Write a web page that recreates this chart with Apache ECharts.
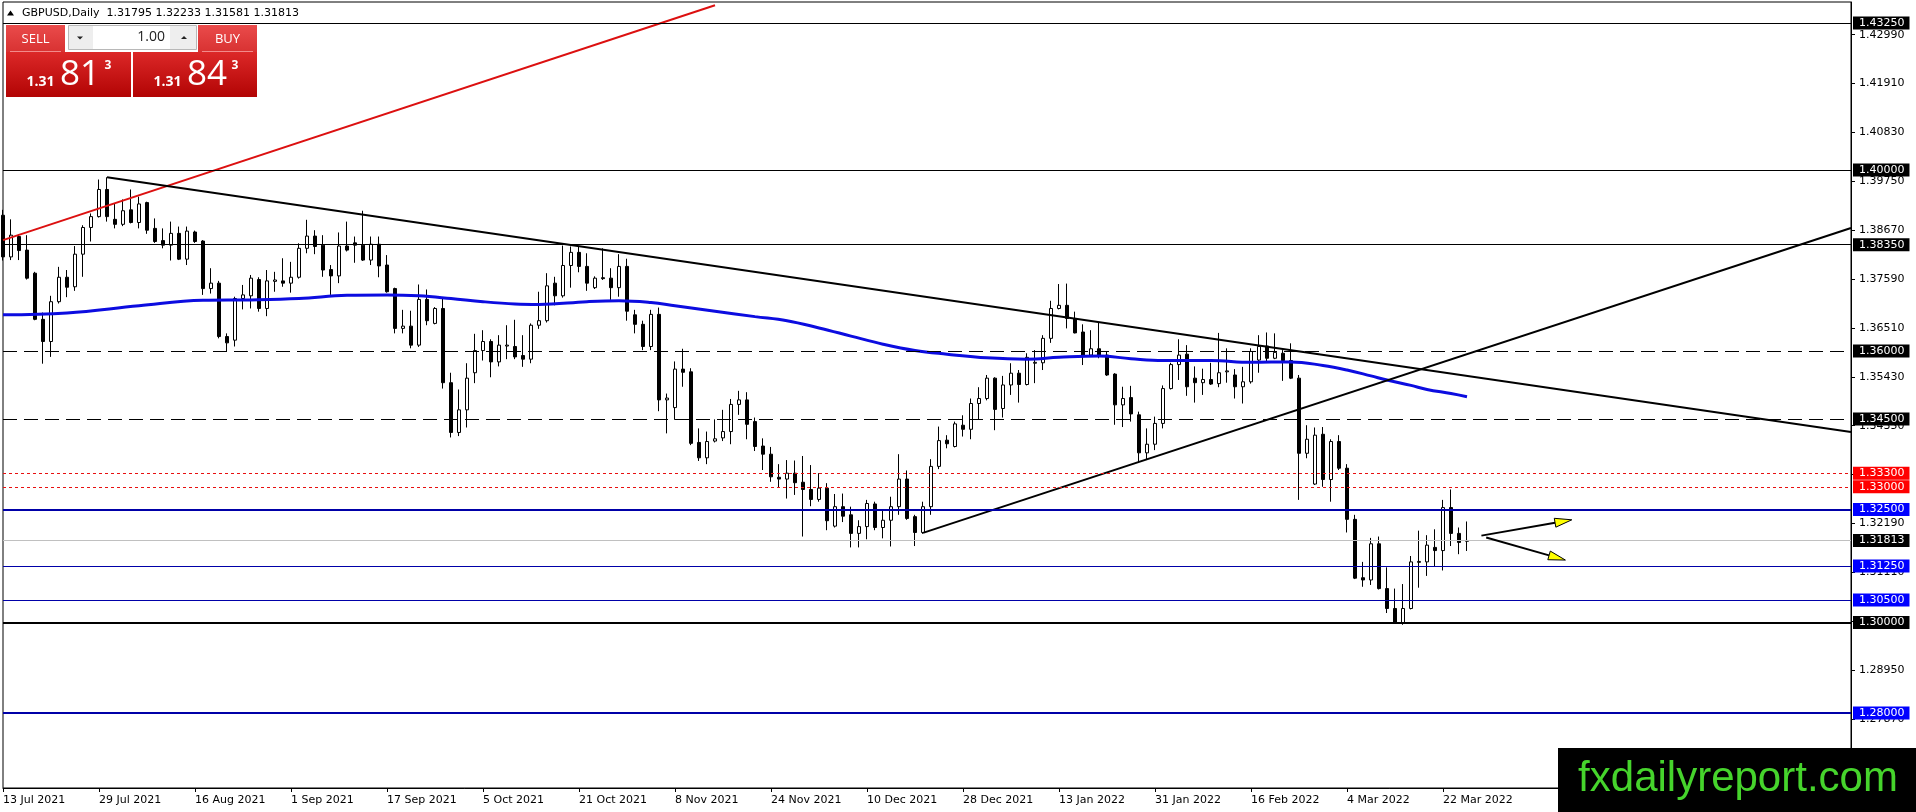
<!DOCTYPE html>
<html>
<head>
<meta charset="utf-8">
<title>GBPUSD, Daily</title>
<script src="https://cdn.jsdelivr.net/npm/echarts@6/dist/echarts.min.js"></script>
<style>
  html, body { margin: 0; padding: 0; background: #fff; }
  #chart { width: 1916px; height: 812px; }
</style>
</head>
<body>
<div id="chart"></div>
<script>
// daily bars, first one is 13 Jul 2021 (weekdays only)
var firstDay = [2021, 6, 13];
var slotCount = 232;          // bars + empty chart shift on the right
var labelEvery = 12;

var openP = [
  1.3900,1.3808,1.3853,1.3823,1.3772,1.3670,1.3621,1.3709,1.3763,1.3742,
  1.3814,1.3873,1.3897,1.3957,1.3891,1.3880,1.3912,1.3884,1.3928,1.3871,
  1.3844,1.3834,1.3860,1.3803,1.3863,1.3843,1.3738,1.3750,1.3632,1.3624,
  1.3716,1.3722,1.3758,1.3694,1.3754,1.3755,1.3750,1.3763,1.3827,1.3854,
  1.3834,1.3780,1.3766,1.3832,1.3839,1.3834,1.3801,1.3836,1.3790,1.3738,
  1.3650,1.3655,1.3613,1.3714,1.3661,1.3694,1.3530,1.3420,1.3470,1.3552,
  1.3601,1.3621,1.3576,1.3611,1.3610,1.3590,1.3582,1.3657,1.3667,1.3750,
  1.3722,1.3789,1.3818,1.3787,1.3740,1.3762,1.3761,1.3740,1.3787,1.3680,
  1.3659,1.3610,1.3681,1.3492,1.3475,1.3560,1.3554,1.3398,1.3364,1.3401,
  1.3408,1.3422,1.3482,1.3492,1.3444,1.3390,1.3372,1.3321,1.3317,1.3330,
  1.3310,1.3294,1.3272,1.3297,1.3213,1.3256,1.3238,1.3197,1.3212,1.3262,
  1.3210,1.3226,1.3256,1.3317,1.3234,1.3199,1.3256,1.3345,1.3403,1.3389,
  1.3436,1.3427,1.3484,1.3495,1.3540,1.3473,1.3525,1.3551,1.3526,1.3573,
  1.3574,1.3628,1.3694,1.3701,1.3672,1.3642,1.3591,1.3605,1.3591,1.3549,
  1.3481,1.3497,1.3459,1.3375,1.3394,1.3440,1.3517,1.3570,1.3593,1.3540,
  1.3530,1.3537,1.3528,1.3554,1.3547,1.3521,1.3532,1.3580,1.3611,1.3584,
  1.3595,1.3579,1.3540,1.3374,1.3306,1.3416,1.3316,1.3400,1.3341,1.3228,
  1.3099,1.3094,1.3174,1.3075,1.3031,1.3000,1.3031,1.3133,1.3134,1.3166,
  1.3159,1.3254,1.3197,1.31795
];
var highP = [
  1.3912,1.3891,1.3858,1.3856,1.3775,1.3685,1.3722,1.3786,1.3779,1.3832,
  1.3878,1.3904,1.3979,1.3984,1.3926,1.3935,1.3957,1.3941,1.3930,1.3893,
  1.3871,1.3886,1.3875,1.3875,1.3866,1.3845,1.3783,1.3755,1.3639,1.3720,
  1.3746,1.3768,1.3763,1.3779,1.3775,1.3805,1.3797,1.3838,1.3890,1.3867,
  1.3856,1.3790,1.3862,1.3886,1.3853,1.3910,1.3853,1.3853,1.3812,1.3740,
  1.3691,1.3689,1.3747,1.3736,1.3697,1.3716,1.3552,1.3515,1.3573,1.3638,
  1.3646,1.3626,1.3635,1.3657,1.3669,1.3635,1.3661,1.3731,1.3772,1.3764,
  1.3833,1.3831,1.3831,1.3816,1.3765,1.3827,1.3783,1.3814,1.3804,1.3691,
  1.3667,1.3691,1.3696,1.3506,1.3577,1.3605,1.3562,1.3429,1.3422,1.3449,
  1.3470,1.3494,1.3512,1.3509,1.3453,1.3407,1.3388,1.3350,1.3359,1.3358,
  1.3368,1.3348,1.3330,1.3308,1.3284,1.3285,1.3256,1.3226,1.3271,1.3267,
  1.3249,1.3278,1.3372,1.3336,1.3238,1.3267,1.3361,1.3433,1.3414,1.3444,
  1.3458,1.3495,1.3520,1.3547,1.3542,1.3545,1.3573,1.3558,1.3595,1.3602,
  1.3635,1.3711,1.3748,1.3749,1.3687,1.3659,1.3646,1.3662,1.3598,1.3551,
  1.3521,1.3523,1.3466,1.3429,1.3455,1.3524,1.3574,1.3626,1.3613,1.3566,
  1.3561,1.3574,1.3640,1.3606,1.3560,1.3565,1.3606,1.3635,1.3641,1.3639,
  1.3602,1.3617,1.3547,1.3436,1.3431,1.3432,1.3405,1.3414,1.3350,1.3238,
  1.3134,1.3187,1.3190,1.3122,1.3075,1.3085,1.3147,1.3203,1.3193,1.3206,
  1.3271,1.3294,1.3210,1.32233
];
var lowP = [
  1.3800,1.3801,1.3801,1.3758,1.3668,1.3572,1.3587,1.3705,1.3719,1.3733,
  1.3764,1.3842,1.3895,1.3886,1.3871,1.3876,1.3882,1.3871,1.3859,1.3839,
  1.3827,1.3800,1.3801,1.3790,1.3839,1.3724,1.3727,1.3628,1.3599,1.3610,
  1.3692,1.3694,1.3687,1.3677,1.3731,1.3742,1.3729,1.3760,1.3816,1.3814,
  1.3764,1.3724,1.3750,1.3820,1.3795,1.3799,1.3790,1.3763,1.3729,1.3639,
  1.3639,1.3606,1.3609,1.3657,1.3659,1.3517,1.3409,1.3412,1.3431,1.3529,
  1.3579,1.3542,1.3566,1.3582,1.3582,1.3565,1.3573,1.3649,1.3663,1.3701,
  1.3718,1.3740,1.3774,1.3733,1.3737,1.3757,1.3713,1.3720,1.3667,1.3639,
  1.3602,1.3602,1.3467,1.3418,1.3448,1.3521,1.3392,1.3357,1.3350,1.3398,
  1.3401,1.3394,1.3459,1.3405,1.3379,1.3337,1.3311,1.3299,1.3274,1.3282,
  1.3190,1.3257,1.3267,1.3204,1.3210,1.3222,1.3166,1.3166,1.3184,1.3204,
  1.3186,1.3168,1.3238,1.3227,1.3169,1.3196,1.3238,1.3339,1.3385,1.3387,
  1.3411,1.3405,1.3449,1.3491,1.3425,1.3453,1.3503,1.3486,1.3524,1.3529,
  1.3558,1.3618,1.3692,1.3650,1.3639,1.3569,1.3588,1.3584,1.3545,1.3437,
  1.3432,1.3444,1.3355,1.3360,1.3381,1.3429,1.3515,1.3536,1.3501,1.3486,
  1.3503,1.3525,1.3520,1.3530,1.3495,1.3484,1.3528,1.3552,1.3574,1.3582,
  1.3534,1.3538,1.3271,1.3363,1.3304,1.3300,1.3267,1.3337,1.3199,1.3096,
  1.3079,1.3083,1.3073,1.3021,1.2998,1.2995,1.3029,1.3077,1.3103,1.3124,
  1.3115,1.3169,1.3151,1.31581
];
var closeP = [
  1.3808,1.3856,1.3822,1.3761,1.3670,1.3621,1.3709,1.3763,1.3741,1.3814,
  1.3873,1.3897,1.3957,1.3897,1.3880,1.3910,1.3884,1.3925,1.3867,1.3842,
  1.3834,1.3860,1.3803,1.3865,1.3842,1.3738,1.3750,1.3632,1.3618,1.3716,
  1.3724,1.3761,1.3694,1.3755,1.3757,1.3750,1.3763,1.3827,1.3854,1.3831,
  1.3779,1.3766,1.3832,1.3823,1.3834,1.3801,1.3836,1.3788,1.3731,1.3650,
  1.3655,1.3613,1.3714,1.3667,1.3694,1.3530,1.3420,1.3470,1.3540,1.3601,
  1.3621,1.3576,1.3613,1.3613,1.3587,1.3582,1.3657,1.3667,1.3744,1.3722,
  1.3789,1.3818,1.3787,1.3750,1.3761,1.3760,1.3740,1.3787,1.3688,1.3659,
  1.3610,1.3681,1.3492,1.3496,1.3560,1.3553,1.3396,1.3364,1.3400,1.3406,
  1.3422,1.3482,1.3492,1.3438,1.3389,1.3372,1.3322,1.3317,1.3330,1.3309,
  1.3294,1.3272,1.3297,1.3225,1.3256,1.3235,1.3197,1.3212,1.3263,1.3210,
  1.3226,1.3256,1.3317,1.3230,1.3199,1.3256,1.3345,1.3402,1.3395,1.3439,
  1.3427,1.3484,1.3495,1.3540,1.3471,1.3525,1.3551,1.3526,1.3586,1.3575,
  1.3628,1.3694,1.3701,1.3672,1.3640,1.3588,1.3605,1.3591,1.3547,1.3481,
  1.3495,1.3461,1.3375,1.3394,1.3440,1.3517,1.3570,1.3591,1.3521,1.3530,
  1.3537,1.3527,1.3552,1.3556,1.3521,1.3532,1.3599,1.3610,1.3584,1.3597,
  1.3579,1.3540,1.3374,1.3405,1.3414,1.3316,1.3400,1.3341,1.3228,1.3098,
  1.3094,1.3174,1.3075,1.3031,1.3001,1.3031,1.3134,1.3135,1.3171,1.3159,
  1.3254,1.3197,1.3177,1.31813
];

// moving average as [bar, price]
var maPoints = [
  [0,1.3680],[8,1.3684],[17,1.3700],[25,1.3712],[31,1.3713],[37,1.3716],[43,1.3723],
  [48,1.3724],[52,1.3722],[56,1.3716],[60,1.3709],[64,1.3704],[67,1.3703],[73,1.3709],
  [77,1.3711],[81,1.3707],[84,1.3700],[89,1.3688],[94,1.3676],[98,1.3667],[102,1.3651],
  [106,1.3633],[110,1.3615],[114,1.3601],[118,1.3593],[123,1.3585],[128,1.3582],[132,1.3586],
  [137,1.3589],[141,1.3583],[145,1.3579],[151,1.3579],[156,1.3575],[161,1.3576],[165,1.3568],
  [168,1.3558],[171,1.3545],[173,1.3536],[176,1.3524],[178,1.3515],[181,1.3506],[183,1.3499]
];

// drawn objects: trend lines [bar, price] and the two arrows [x1, y1, x2, y2]
var redTrend = [[0, 1.3845], [89, 1.4364]];
var downTrend = [[13, 1.3984], [231, 1.3421]];
var upTrend = [[115, 1.3198], [231, 1.3872]];
var arrowUp = [184.8, 1.3192, 196.1, 1.3227];
var arrowDown = [185.4, 1.3188, 195.3, 1.3138];

// horizontal levels
var levelPrices = [1.43250, 1.40000, 1.38350, 1.36000, 1.34500, 1.33300, 1.33000,
                   1.32500, 1.31250, 1.30500, 1.30000, 1.28000];
var levelKind = ['thin', 'thin', 'thin', 'dash', 'dash', 'dot', 'dot',
                 'blueBold', 'blue', 'blue', 'blackBold', 'blueBold'];

var priceTicks = [1.27870, 1.28950, 1.30030, 1.31110, 1.32190, 1.33270, 1.34350, 1.35430,
                  1.36510, 1.37590, 1.38670, 1.39750, 1.40830, 1.41910, 1.42990];
var priceMin = 1.26343, priceMax = 1.43713;
var spread = 0.00030, lotSize = '1.00';

var months = ['Jan','Feb','Mar','Apr','May','Jun','Jul','Aug','Sep','Oct','Nov','Dec'];
var dates = [];
var d = new Date(Date.UTC(firstDay[0], firstDay[1], firstDay[2]));
while (dates.length < slotCount) {
  var wd = d.getUTCDay();
  if (wd !== 0 && wd !== 6) {
    dates.push(d.getUTCDate() + ' ' + months[d.getUTCMonth()] + ' ' + d.getUTCFullYear());
  }
  d.setUTCDate(d.getUTCDate() + 1);
}

var lastBar = closeP.length - 1;
var candles = [];
for (var i = 0; i < closeP.length; i++) {
  candles.push([openP[i], closeP[i], lowP[i], highP[i]]);
}

var FONT = 'DejaVu Sans';
var kindStyle = {
  thin:      { line: { color: '#000', width: 1, type: 'solid' }, box: '#000' },
  dash:      { line: { color: '#000', width: 1, type: [14, 7] }, box: '#000' },
  dot:       { line: { color: '#e81010', width: 1, type: [3, 3] }, box: '#ff0000' },
  blueBold:  { line: { color: '#0000a8', width: 2, type: 'solid' }, box: '#0000ff' },
  blue:      { line: { color: '#0000a8', width: 1, type: 'solid' }, box: '#0000ff' },
  blackBold: { line: { color: '#000', width: 2, type: 'solid' }, box: '#000' },
  bid:       { line: { color: '#c0c0c0', width: 1, type: 'solid' }, box: '#000' }
};

function levelItem(value, kind) {
  var st = kindStyle[kind];
  return {
    yAxis: value,
    lineStyle: st.line,
    label: {
      show: true, position: 'end', distance: 2,
      formatter: value.toFixed(5),
      color: '#fff', backgroundColor: st.box,
      padding: [1, 5, 0, 6], fontFamily: FONT, fontSize: 11, lineHeight: 12
    }
  };
}
var levelData = [];
for (var k = 0; k < levelPrices.length; k++) levelData.push(levelItem(levelPrices[k], levelKind[k]));
levelData.push(levelItem(closeP[lastBar], 'bid'));

function showLabel(index) { return index % labelEvery === 0 && index <= lastBar; }

// trade panel strings
var bidStr = closeP[lastBar].toFixed(5);
var askStr = (closeP[lastBar] + spread).toFixed(5);
var titleStr = 'GBPUSD,Daily  ' + openP[lastBar].toFixed(5) + ' ' + highP[lastBar].toFixed(5) + ' ' +
               lowP[lastBar].toFixed(5) + ' ' + closeP[lastBar].toFixed(5);

function grad(top, bottom) {
  return new echarts.graphic.LinearGradient(0, 0, 0, 1, [
    { offset: 0, color: top }, { offset: 1, color: bottom }
  ]);
}
function txt(text, x, y, font, fill, align) {
  return { type: 'text', silent: true, z: 50,
    style: { text: text, x: x, y: y, font: font, fill: fill,
             align: align || 'left', textAlign: align || 'left',
             verticalAlign: 'middle', textVerticalAlign: 'middle' } };
}
function priceBox(x, w, s) {
  return [
    { type: 'rect', z: 49, shape: { x: x, y: 52, width: w, height: 45 }, style: { fill: grad('#dc2828', '#b20404') } },
    txt(s.slice(0, 4), x + 20.5, 82.5, 'bold 14px "Open Sans"', '#fff'),
    txt(s.slice(4, 6), x + 54, 75.5, '35px "Open Sans"', '#fff'),
    txt(s.slice(6), x + 98.5, 66, 'bold 12px "Open Sans"', '#fff')
  ];
}

var graphics = [
  { type: 'polygon', z: 50, shape: { points: [[7, 15.5], [10.5, 10.5], [14, 15.5]] }, style: { fill: '#000' } },
  txt(titleStr, 22, 13, '11px "' + FONT + '"', '#000'),

  { type: 'rect', z: 49, shape: { x: 6, y: 25, width: 59, height: 27 }, style: { fill: grad('#ea4b4b', '#d83232') } },
  { type: 'line', z: 50, shape: { x1: 10, y1: 51.5, x2: 61, y2: 51.5 }, style: { stroke: '#f28a8a', lineWidth: 1 } },
  txt('SELL', 35.5, 39, '13px "Open Sans"', '#fff', 'center'),
  { type: 'rect', z: 49, shape: { x: 68.5, y: 25.5, width: 128, height: 24 }, style: { fill: '#eeeeee', stroke: '#b8b8b8', lineWidth: 1 } },
  { type: 'rect', z: 50, shape: { x: 93, y: 26, width: 77, height: 23 }, style: { fill: '#ffffff' } },
  { type: 'polygon', z: 50, shape: { points: [[77, 36.5], [83, 36.5], [80, 39.5]] }, style: { fill: '#222' } },
  { type: 'polygon', z: 50, shape: { points: [[181, 39], [187, 39], [184, 36]] }, style: { fill: '#222' } },
  txt(lotSize, 165, 37.5, '14px "Open Sans"', '#222', 'right'),
  { type: 'rect', z: 49, shape: { x: 198, y: 25, width: 59, height: 27 }, style: { fill: grad('#ea4b4b', '#d83232') } },
  { type: 'line', z: 50, shape: { x1: 202, y1: 51.5, x2: 253, y2: 51.5 }, style: { stroke: '#f28a8a', lineWidth: 1 } },
  txt('BUY', 227.5, 39, '13px "Open Sans"', '#fff', 'center')
].concat(priceBox(6, 125, bidStr)).concat(priceBox(133, 124, askStr)).concat([
  { type: 'rect', z: 100, shape: { x: 1558, y: 748, width: 358, height: 64 }, style: { fill: '#000' } },
  txt('fxdailyreport.com', 1738, 779, '42px "Liberation Sans"', '#46d42c', 'center')
]);
graphics[graphics.length - 1].z = 101;

function trendSeries(points, color, width) {
  return {
    type: 'line', xAxisIndex: 1, data: points, symbol: 'none', silent: true,
    lineStyle: { color: color, width: width }, z: 4
  };
}

var chart = echarts.init(document.getElementById('chart'));
var option = {
  animation: false,
  backgroundColor: '#fff',
  grid: {
    left: 3, right: 65, top: 2, bottom: 24,
    show: true, borderColor: '#000', borderWidth: 1,
    containLabel: false, outerBoundsMode: 'none'
  },
  xAxis: [{
    type: 'category', data: dates, boundaryGap: false,
    axisLine: { show: true, onZero: false, lineStyle: { color: '#000', width: 1 } },
    axisTick: { show: true, interval: showLabel, length: 4, lineStyle: { color: '#000' } },
    axisLabel: { interval: showLabel, align: 'left', margin: 7, color: '#000',
                 fontFamily: FONT, fontSize: 11 },
    splitLine: { show: false }
  }, {
    type: 'value', min: 0, max: slotCount - 1, show: false,
    axisLine: { onZero: false }
  }],
  yAxis: {
    type: 'value', position: 'right', min: priceMin, max: priceMax, scale: true,
    axisLine: { show: true, onZero: false, lineStyle: { color: '#000', width: 1 } },
    axisTick: { show: true, customValues: priceTicks, length: 4, lineStyle: { color: '#000' } },
    axisLabel: { customValues: priceTicks, margin: 8, color: '#000', fontFamily: FONT, fontSize: 11,
                 formatter: function (v) { return v.toFixed(5); } },
    splitLine: { show: false }
  },
  graphic: graphics,
  series: [{
    type: 'candlestick', data: candles, barWidth: 4,
    itemStyle: { color: '#ffffff', color0: '#000000', borderColor: '#000', borderColor0: '#000',
                 borderColorDoji: '#000', borderWidth: 1 },
    markLine: { silent: true, symbol: ['none', 'none'], precision: 5, animation: false, data: levelData },
    z: 2
  },
    trendSeries(redTrend, '#dc1010', 2),
    trendSeries(downTrend, '#000', 2),
    trendSeries(upTrend, '#000', 2),
    {
      type: 'line', xAxisIndex: 1, data: maPoints, symbol: 'none', smooth: 0.4, silent: true,
      lineStyle: { color: '#0c0ce0', width: 3 }, z: 3
    },
    {
      type: 'custom', xAxisIndex: 1, data: [arrowUp, arrowDown], silent: true, z: 6, clip: false,
      encode: { x: [0, 2], y: [1, 3] },
      renderItem: function (params, api) {
        var p1 = api.coord([api.value(0), api.value(1)]);
        var p2 = api.coord([api.value(2), api.value(3)]);
        var dx = p2[0] - p1[0], dy = p2[1] - p1[1];
        var len = Math.sqrt(dx * dx + dy * dy);
        var ux = dx / len, uy = dy / len;
        var headLen = 17, half = 4.5;
        var bx = p2[0] - ux * headLen, by = p2[1] - uy * headLen;
        return {
          type: 'group', children: [
            { type: 'line', shape: { x1: p1[0], y1: p1[1], x2: bx, y2: by },
              style: { stroke: '#000', lineWidth: 2 } },
            { type: 'polygon',
              shape: { points: [[p2[0], p2[1]], [bx - uy * half, by + ux * half], [bx + uy * half, by - ux * half]] },
              style: { fill: '#ffff00', stroke: '#000', lineWidth: 1 } }
          ]
        };
      }
    }
  ]
};
chart.setOption(option);
</script>
</body>
</html>
